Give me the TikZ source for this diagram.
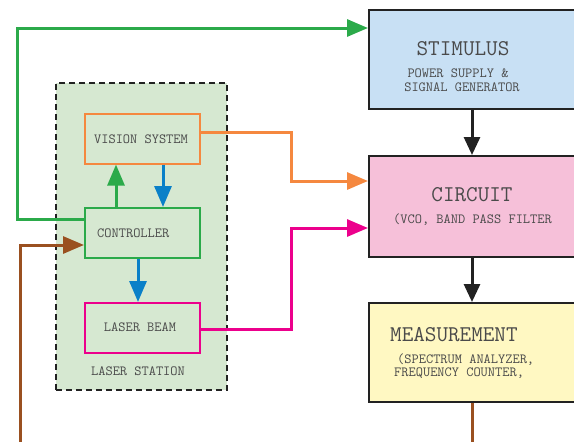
\documentclass[tikz,border=0pt]{standalone}
\usepackage{fontspec}
\usetikzlibrary{arrows.meta}
\definecolor{cgreen}{HTML}{2BAA4A}
\definecolor{cblue}{HTML}{0A80C8}
\definecolor{corange}{HTML}{F5883F}
\definecolor{cmag}{HTML}{EC008C}
\definecolor{cbrown}{HTML}{9A5020}
\definecolor{fstim}{HTML}{C8E0F4}
\definecolor{fcirc}{HTML}{F6C0D9}
\definecolor{fmeas}{HTML}{FFF8C2}
\definecolor{fstat}{HTML}{D6E8D1}
\definecolor{ctext}{HTML}{4A4A4A}
\definecolor{cblack}{HTML}{222222}
\begin{document}
\begin{tikzpicture}[x=1pt,y=-1pt,
  bigbox/.style={draw=cblack,line width=1.5pt,anchor=north west,minimum width=240pt,inner sep=0pt},
  smallbox/.style={line width=1.6pt,anchor=north west,minimum width=115pt,minimum height=50pt,inner sep=0pt},
  title/.style={font=\ttfamily\fontsize{22.5}{23}\selectfont,text=ctext,inner sep=0pt},
  sub/.style={font=\ttfamily\fontsize{14}{15}\selectfont,text=ctext,inner sep=0pt},
  conn/.style={line width=3pt},
  tip/.style={-{Triangle[length=21pt,width=17pt]}},
  btip/.style={-{Triangle[length=18pt,width=16pt]}}]
\useasboundingbox (0,0) rectangle (574,442);
\clip (0,0) rectangle (574,442);
% right column
\node[bigbox,fill=fstim,minimum height=99pt] (stim) at (368,9) {};
\node[bigbox,fill=fcirc,minimum height=101pt] (circ) at (368,155) {};
\node[bigbox,fill=fmeas,minimum height=99pt] (meas) at (368,302) {};
\node[title] (tstim) at (463,49) {STIMULUS};
\node[sub] (s1) at (458,73) {POWER SUPPLY \&};
\node[sub] (s2) at (462,87) {SIGNAL GENERATOR};
\node[title] (tcirc) at (472,195) {CIRCUIT};
\node[sub,anchor=west] (c1) at (393,220) {(VCO, BAND PASS FILTER};
\node[title,anchor=west] (tmeas) at (390,335) {MEASUREMENT};
\node[sub,anchor=west] (m1) at (397,360) {(SPECTRUM ANALYZER,};
\node[sub,anchor=west] (m2) at (394,373) {FREQUENCY COUNTER,};
% laser station
\node[draw=cblack,dashed,dash pattern=on 6pt off 4pt,line width=1.5pt,fill=fstat,anchor=north west,minimum width=171pt,minimum height=307pt,inner sep=0pt] (stat) at (55,82) {};
\node[smallbox,draw=corange] (vis) at (84,113) {};
\node[smallbox,draw=cgreen] (ctrl) at (84,207) {};
\node[smallbox,draw=cmag] (laser) at (84,302) {};
\node[sub] (tvis) at (141,139) {VISION SYSTEM};
\node[sub,anchor=west] (tctrl) at (97,233) {CONTROLLER};
\node[sub] (tlaser) at (140,327) {LASER BEAM};
\node[sub] (tstat) at (138,371) {LASER STATION};
% coordinates
\coordinate (g1) at (17,219);
\coordinate (g2) at (17,28);
\coordinate (o1) at (291,132);
\coordinate (o2) at (291,181);
\coordinate (p1) at (291,329);
\coordinate (p2) at (291,228);
\coordinate (b1) at (20,445);
\coordinate (b2) at (20,245);
\coordinate (bx) at (472,0);
\coordinate (bend) at (472,445);
\coordinate (gx) at (116,0);
\coordinate (ux) at (163,0);
\coordinate (lx) at (138,0);
% connectors
\draw[conn,cgreen,tip] (ctrl.west |- g1) -- (g1) -- (g2) -- (stim.west |- g2);
\draw[conn,cgreen,tip] (gx |- ctrl.north) -- (gx |- vis.south);
\draw[conn,cblue,tip] (ux |- vis.south) -- (ux |- ctrl.north);
\draw[conn,cblue,tip] (lx |- ctrl.south) -- (lx |- laser.north);
\draw[conn,corange,tip] (vis.east |- o1) -- (o1) -- (o2) -- (circ.west |- o2);
\draw[conn,cmag,tip] (laser.east |- p1) -- (p1) -- (p2) -- (circ.west |- p2);
\draw[conn,cbrown,tip] (b1) -- (b2) -- (ctrl.west |- b2);
\draw[conn,cblack,btip] (bx |- stim.south) -- (bx |- circ.north);
\draw[conn,cblack,btip] (bx |- circ.south) -- (bx |- meas.north);
\draw[conn,cbrown] (bx |- meas.south) -- (bend);
\end{tikzpicture}
\end{document}
